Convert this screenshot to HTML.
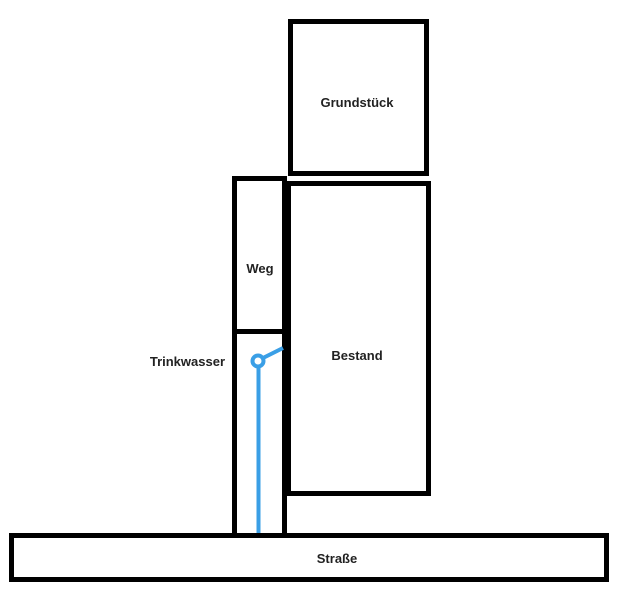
<!DOCTYPE html>
<html><head><style>
html,body{margin:0;padding:0;background:#fff;width:638px;height:610px;overflow:hidden}
svg{display:block}
text{font-family:"Liberation Sans",sans-serif;font-weight:bold;font-size:13px;fill:#222}
</style></head><body>
<svg width="638" height="610" viewBox="0 0 638 610">
<g fill="none" stroke="#000" stroke-width="5">
<rect x="290.5" y="21.5" width="136" height="152"/>
<rect x="234.5" y="178.5" width="50" height="153"/>
<line x1="234.5" y1="331" x2="234.5" y2="536"/>
<line x1="284.5" y1="331" x2="284.5" y2="536"/>
<rect x="288.5" y="183.5" width="140" height="310"/>
<rect x="11.5" y="535.5" width="595" height="44"/>
</g>
<g stroke="#3a9fe6" stroke-width="4" fill="none">
<line x1="258.5" y1="366" x2="258.5" y2="533"/>
<line x1="263" y1="358" x2="283" y2="348"/>
<circle cx="258" cy="361" r="5.5"/>
</g>
<text x="357" y="107" text-anchor="middle">Grundstück</text>
<text x="260" y="273" text-anchor="middle">Weg</text>
<text x="357" y="360" text-anchor="middle">Bestand</text>
<text x="225" y="366" text-anchor="end">Trinkwasser</text>
<text x="337" y="563" text-anchor="middle">Straße</text>
</svg>
</body></html>
